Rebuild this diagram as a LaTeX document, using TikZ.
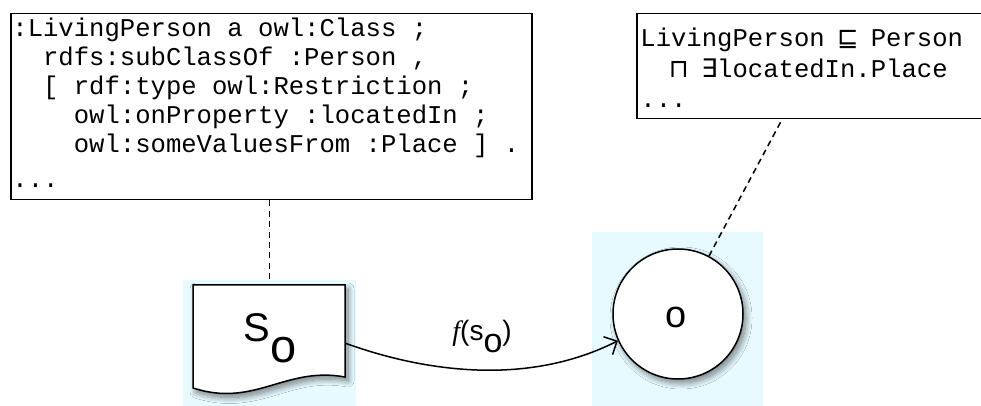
\documentclass[tikz,border=0pt]{standalone}
\usepackage{fontspec}
\setmainfont{Liberation Sans}
\newfontfamily\monofont{Liberation Mono}
\newfontfamily\symfont{DejaVu Sans}
\newfontfamily\seriffont{Liberation Serif}
\usetikzlibrary{arrows.meta,shadows.blur}
\definecolor{bgblue}{RGB}{230,250,255}
\newcommand\msym[1]{\makebox[0.6em]{\symfont #1}}
\tikzset{
  codebox/.style={draw=black, line width=0.75pt, inner sep=0pt, anchor=north west},
  codetext/.style={inner sep=0pt, anchor=north west, align=left, font=\monofont\fontsize{12.8}{14.4}\selectfont},
  bgrect/.style={fill=bgblue, draw=none},
  shapeline/.style={draw=black, line width=0.75pt, fill=white,
    blur shadow={shadow xshift=1.5pt, shadow yshift=-2pt, shadow blur radius=3pt, shadow opacity=50, shadow blur steps=12}},
  dashline/.style={draw=black, line width=0.75pt, dash pattern=on 3pt off 2.2pt},
  maparrow/.style={draw=black, line width=0.75pt, -{Straight Barb[length=5pt,width=10pt,line width=0.75pt]}},
}
\begin{document}
\begin{tikzpicture}[x=0.5pt,y=-0.5pt]
\useasboundingbox (0,0) rectangle (981,406);
\fill[white] (0,0) rectangle (981,406);
% background panels
\path[bgrect] (183,280) rectangle (356,406);
\path[bgrect] (592,232) rectangle (763,406);
% left code box
\node[codebox, minimum width=260.5pt, minimum height=93pt] (L) at (10,13) {};
\node[codetext] (Ltext) at (12,18) {%
:LivingPerson a owl:Class ;\\
\ \ rdfs:subClassOf :Person ,\\
\ \ [ rdf:type owl:Restriction ;\\
\ \ \ \ owl:onProperty :locatedIn ;\\
\ \ \ \ owl:someValuesFrom :Place ] .\\[3.5pt]
...};
% right DL box
\node[codebox, minimum width=180pt, minimum height=52.5pt] (R) at (636,13) {};
\node[codetext, font=\monofont\fontsize{12.8}{15.5}\selectfont] (Rtext) at (640,28) {%
LivingPerson \msym{⊑} Person\\
\ \ \msym{⊓} \msym{∃}locatedIn.Place\\[-0.5pt]
...};
\coordinate (Rb) at ([xshift=73pt]R.south west);
% document shape
\node[inner sep=0pt, minimum width=76pt, minimum height=46pt, anchor=north west] (S) at (193,285) {};
\path[shapeline] (193,285) -- (345,285) -- (345,377)
  .. controls (285,366) and (255,408) .. (193,388) -- cycle;
\node[inner sep=0pt, anchor=base west, font=\fontsize{20}{24}\selectfont] (Stxt) at (243,342)
  {S\raisebox{-10.5pt}{\fontsize{23.5}{28}\selectfont o}};
% circle
\node[circle, shapeline, minimum size=65pt, inner sep=0pt] (O) at (678,314) {};
\node[inner sep=0pt, font=\fontsize{19}{22}\selectfont] (Otxt) at (676,317) {o};
% connectors
\draw[dashline] (L.south -| S.north) -- (S.north);
\draw[dashline] (O) -- (Rb);
\draw[maparrow] ([yshift=-6pt]S.east) .. controls +(37.5pt,-13.5pt) and +(-46.5pt,-23.5pt) .. (O.204);
\node[inner sep=0pt, anchor=base west, font=\fontsize{14}{17}\selectfont] (flab) at (452,341)
  {{\seriffont\itshape f}(s\raisebox{-6pt}{\fontsize{17}{20}\selectfont o})};
\end{tikzpicture}
\end{document}
